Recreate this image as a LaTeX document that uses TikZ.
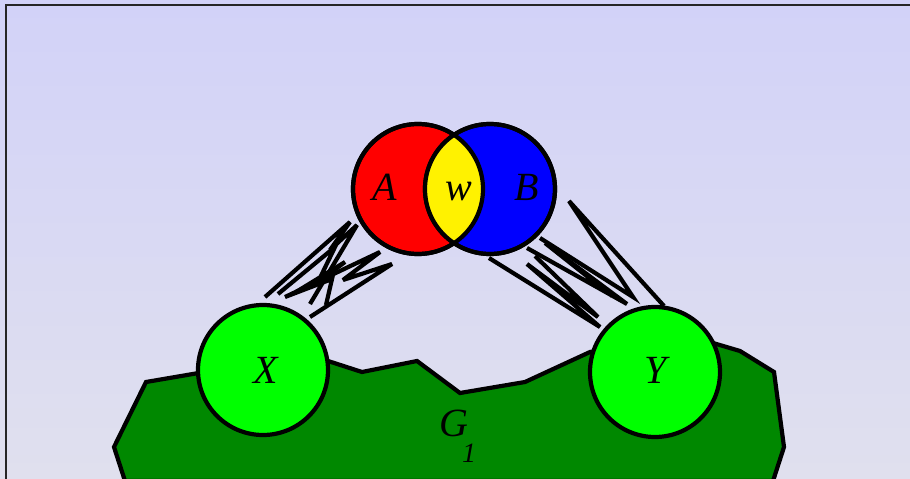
\documentclass[tikz,border=0pt]{standalone}
\usepackage{fontspec}
\setmainfont{Liberation Serif}
\definecolor{bgtop}{RGB}{210,210,248}
\definecolor{bgbot}{RGB}{224,224,238}
\definecolor{setgreen}{RGB}{0,255,0}
\definecolor{graphgreen}{RGB}{0,136,0}
\tikzset{
  setcirc/.style={circle,draw=black,line width=4.2pt,minimum size=130pt,inner sep=0pt},
  setlabel/.style={font=\fontsize{40}{44}\selectfont\itshape,inner sep=0pt},
  bundle/.style={line width=4.2pt,line join=miter,miter limit=5},
}

\begin{document}
\begin{tikzpicture}[x=1pt,y=-1pt]

\useasboundingbox (0,0) rectangle (910,479);
\clip (0,0) rectangle (910,479);

% Background and frame
\shade[top color=bgtop,bottom color=bgbot] (0,0) rectangle (910,479);
\draw[line width=2.4pt,black!85] (6,5) rectangle (930,500);

% Graph G_1
\draw[line width=4.2pt,fill=graphgreen] (125,481) -- (114,447) -- (146,382) -- (263,362)
  -- (328,361) -- (362,372) -- (417,361) -- (460,393) -- (525,382) -- (590,352)
  -- (655,340) -- (713,343) -- (740,351) -- (774,372) -- (784,447) -- (773,481) -- cycle;

% Edge bundles between X and A
\draw[bundle] (265,297) -- (350,222) -- (330,250) -- (357,225) -- (310,304);
\draw[bundle] (278,294) -- (335,247) -- (318,282) -- (345,262) -- (296,292);
\draw[bundle] (310,317) -- (392,264) -- (343,280) -- (380,252) -- (285,297) -- (332,279) -- (326,305);

% Edge bundles between B and Y
\draw[bundle] (540,238) -- (633,297) -- (569,201) -- (664,306);
\draw[bundle] (527,248) -- (627,304) -- (545,243) -- (612,296);
\draw[bundle] (489,258) -- (600,327) -- (527,264) -- (598,317) -- (535,256);

% Sets A and B with their intersection
\node[setcirc,fill=red] (A) at (418,189) {};
\node[setcirc,fill=blue] (B) at (490,189) {};
\begin{scope}
  \clip (A.center) circle (65);
  \fill[yellow] (B.center) circle (65);
\end{scope}
\draw[line width=4.2pt] (A.center) circle (65) (B.center) circle (65);

% Sets X and Y
\node[setcirc,fill=setgreen] (X) at (263,370) {};
\node[setcirc,fill=setgreen] (Y) at (655,372) {};

% Labels
\node[setlabel] (labA) at (385,187) {A};
\node[setlabel] (labw) at (459,192) {w};
\node[setlabel] (labB) at (527,187) {B};
\node[setlabel] (labX) at (266,370) {X};
\node[setlabel] (labY) at (656,370) {Y};
\node[setlabel] (labG) at (454,423) {G};
\node[setlabel,font=\fontsize{28}{30}\selectfont\itshape] (labG1) at (469,453) {1};

\end{tikzpicture}
\end{document}
